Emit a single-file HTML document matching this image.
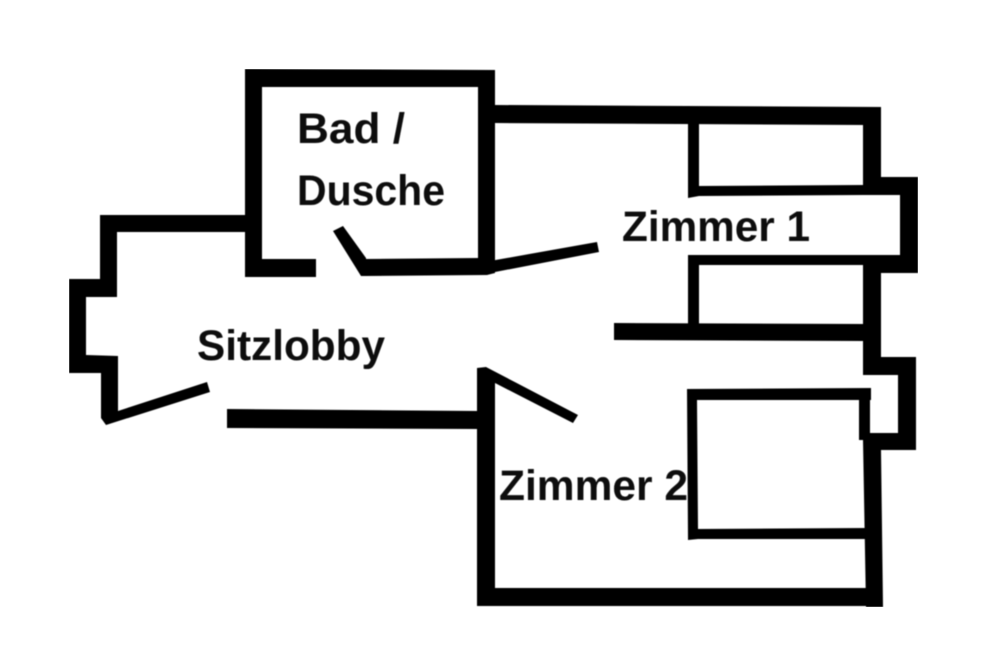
<!DOCTYPE html>
<html>
<head>
<meta charset="utf-8">
<style>
html,body{margin:0;padding:0;background:#fff;width:1000px;height:664px;overflow:hidden}
svg{display:block}
text{font-family:"Liberation Sans",sans-serif;font-weight:bold;font-size:43px;fill:#0a0a0a}
</style>
</head>
<body>
<svg width="1000" height="664" viewBox="0 0 1000 664" xmlns="http://www.w3.org/2000/svg">
<defs><filter id="b" x="0" y="0" width="100%" height="100%"><feGaussianBlur stdDeviation="0.5"/></filter></defs>
<rect width="1000" height="664" fill="#fff"/>
<g filter="url(#b)">
<g fill="#000">
<!-- Bad -->
<polygon points="245,69 495,70 495,270 478,270 478,87 262,87 262,259 316,259 316,277 245,277"/>
<polygon points="365,259 478,258 495,258 495,273 487,275 365,276"/>
<polygon points="333,231 343,226 366,258 367,276 361,276"/>
<!-- Lobby -->
<polygon points="100,215 245,215 245,232 117,232 117,297 86,297 86,355 118,356 118,411 207,382 210,392 106,425 101,418 101,373 69,373 69,279 100,279"/>
<polygon points="227,409 478,411 478,429 227,428"/>
<!-- Door Zimmer 1 -->
<polygon points="490,261 597,242 599,252 490,273"/>
<!-- Zimmer 1 outer -->
<polygon points="495,105 881,107 881,177 918,177 918,273 881,273 881,357 916,357 916,450 881,450 883,607 866,607 863,440 860,440 860,433 898,433 898,375 863,375 863,255 900,255 900,195 863,195 863,125 495,123"/>
<!-- Closets -->
<polygon points="688,120 699,120 699,186 863,185 863,195 699,196 688,198"/>
<polygon points="688,255 863,255 863,265 699,265 699,325 688,325"/>
<polygon points="614,323 863,324 863,341 614,340"/>
<!-- Zimmer 2 -->
<polygon points="477,368 486,367 578,415 573,423 495,383 495,588 866,588 866,606 477,606"/>
<polygon points="687,389 871,388 871,400 870,400 870,440 859,440 859,400 697,400 698,529 866,528 866,539 698,539 688,540"/>
</g>
<text x="297" y="143" textLength="108" lengthAdjust="spacingAndGlyphs">Bad /</text>
<text x="297" y="205" textLength="148" lengthAdjust="spacingAndGlyphs">Dusche</text>
<text x="197" y="360" textLength="188" lengthAdjust="spacingAndGlyphs">Sitzlobby</text>
<text x="622" y="241" textLength="188" lengthAdjust="spacingAndGlyphs">Zimmer 1</text>
<text x="499" y="500" textLength="189" lengthAdjust="spacingAndGlyphs">Zimmer 2</text>
</g>
</svg>
</body>
</html>
